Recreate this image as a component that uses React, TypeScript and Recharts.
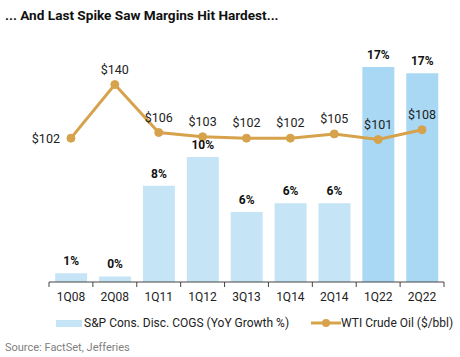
import React from 'react';
import { ComposedChart, Bar, Line, XAxis, YAxis, Cell, LabelList } from 'recharts';

const quarters = ['1Q08', '2Q08', '1Q11', '1Q12', '3Q13', '1Q14', '2Q14', '1Q22', '2Q22'];
const cogsGrowth = [0.7, 0.45, 7.7, 10.0, 5.6, 6.3, 6.3, 17.2, 16.7];
const crudeOil = [102, 140, 106, 103, 102, 102, 105, 101, 108];
const highlighted = ['1Q22', '2Q22'];

const data = quarters.map((q, i) => ({ q, cogs: cogsGrowth[i], oil: crudeOil[i] }));

const LIGHT = '#c5e5f6';
const DARK = '#a8d8f4';
const GOLD = '#d7a24c';
const FONT = 'Roboto, "Noto Sans", sans-serif';
const BAND = 395 / 9;

const QuarterTick = (props: any) => {
  const { x, y, payload, index } = props;
  const axisY = y - 8;
  return (
    <g>
      <line x1={x - BAND / 2} x2={x - BAND / 2} y1={axisY} y2={axisY + 5} stroke="#444" />
      {index === quarters.length - 1 && (
        <line x1={x + BAND / 2} x2={x + BAND / 2} y1={axisY} y2={axisY + 5} stroke="#444" />
      )}
      <text x={x} y={axisY + 19} textAnchor="middle" fontSize={12} fill="#222" fontFamily={FONT}>
        {payload.value}
      </text>
    </g>
  );
};

const OilLabel = (props: any) => {
  const { x, y, value, index } = props;
  if (index === 0) {
    return (
      <text x={x - 11} y={y + 4.5} textAnchor="end" fontSize={12.5} fill="#222" fontFamily={FONT}>
        ${value}
      </text>
    );
  }
  return (
    <text x={x} y={y - 11} textAnchor="middle" fontSize={12.5} fill="#222" fontFamily={FONT}>
      ${value}
    </text>
  );
};

export default function App() {
  return (
    <div style={{ position: 'absolute', left: 0, top: 0, width: 460, height: 357, background: '#fff', fontFamily: FONT }}>
      <div style={{ position: 'absolute', left: 5, top: 7, fontSize: 13.6, fontWeight: 700, color: '#111' }}>
        ... And Last Spike Saw Margins Hit Hardest...
      </div>

      <ComposedChart
        width={460}
        height={310}
        data={data}
        margin={{ top: 62, right: 16, left: 49, bottom: 0 }}
        barCategoryGap="14%"
      >
        <XAxis
          dataKey="q"
          axisLine={{ stroke: '#444' }}
          tickLine={false}
          tick={<QuarterTick />}
          height={28}
          interval={0}
        />
        <YAxis yAxisId="left" hide domain={[0, 17.6]} />
        <YAxis yAxisId="right" orientation="right" hide domain={[0, 156]} />
        <Bar yAxisId="left" dataKey="cogs" isAnimationActive={false}>
          {data.map((d) => (
            <Cell key={d.q} fill={highlighted.includes(d.q) ? DARK : LIGHT} />
          ))}
          <LabelList
            dataKey="cogs"
            position="top"
            offset={8}
            formatter={(v: any) => `${Math.round(Number(v))}%`}
            style={{ fontSize: 12, fontWeight: 700, fill: '#111', fontFamily: FONT }}
          />
        </Bar>
        <Line
          yAxisId="right"
          dataKey="oil"
          stroke={GOLD}
          strokeWidth={3}
          dot={{ r: 4, fill: GOLD, stroke: GOLD, strokeWidth: 1 }}
          isAnimationActive={false}
        >
          <LabelList dataKey="oil" content={<OilLabel />} />
        </Line>
      </ComposedChart>

      <div style={{ position: 'absolute', left: 56, top: 316, display: 'flex', alignItems: 'center', fontSize: 12, color: '#222' }}>
        <span style={{ display: 'inline-block', width: 26, height: 7, background: LIGHT, marginRight: 2 }} />
        <span>S&amp;P Cons. Disc. COGS (YoY Growth %)</span>
      </div>
      <div style={{ position: 'absolute', left: 311, top: 316, display: 'flex', alignItems: 'center', fontSize: 12, color: '#222' }}>
        <svg width={30} height={10}>
          <line x1={0} x2={30} y1={5} y2={5} stroke={GOLD} strokeWidth={3} />
          <circle cx={15} cy={5} r={4} fill={GOLD} />
        </svg>
        <span>WTI Crude Oil ($/bbl)</span>
      </div>

      <div style={{ position: 'absolute', left: 5, top: 341, fontSize: 11, color: '#808080' }}>
        Source: FactSet, Jefferies
      </div>
    </div>
  );
}
